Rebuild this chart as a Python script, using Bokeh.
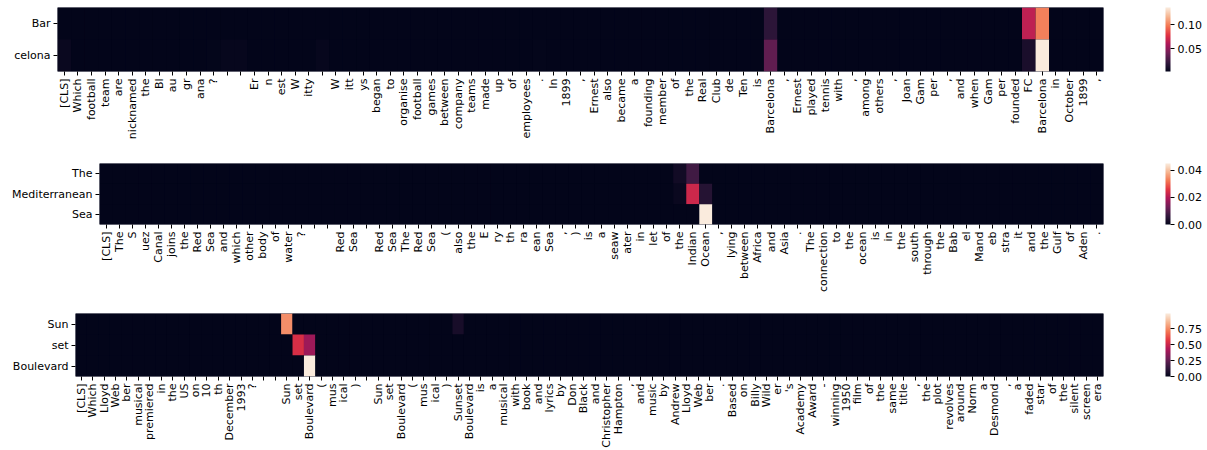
import math
import numpy as np
from bokeh.plotting import figure
from bokeh.models import (ColumnDataSource, LinearColorMapper, ColorBar, FixedTicker,
                          Range1d, PrintfTickFormatter)
from bokeh.embed import file_html
from bokeh.resources import INLINE

# ---------------- data ----------------
tokens1 = ["[CLS]", "Which", "football", "team", "are", "nicknamed", "the", "Bl", "au", "gr",
           "ana", "?", "", "", "Er", "n", "est", "W", "itty", "",
           "W", "itt", "ys", "began", "to", "organise", "football", "games", "between", "company",
           "teams", "made", "up", "of", "employees", ".", "In", "1899", ",", "Ernest",
           "also", "became", "a", "founding", "member", "of", "the", "Real", "Club", "de",
           "Ten", "is", "Barcelona", ",", "Ernest", "played", "tennis", "with", ",", "among",
           "others", ",", "Joan", "Gam", "per", ",", "and", "when", "Gam", "per",
           "founded", "FC", "Barcelona", "in", "October", "1899", ","]
rows1 = ["Bar", "celona"]
bar_vals = [
    0.003, 0.003, 0.003, 0.003, 0.003, 0.003, 0.003, 0.003, 0.003, 0.003,
    0.003, 0.003, 0.003, 0.003, 0.003, 0.003, 0.003, 0.003, 0.003, 0.003,
    0.003, 0.003, 0.003, 0.003, 0.003, 0.003, 0.003, 0.003, 0.003, 0.003,
    0.003, 0.003, 0.003, 0.003, 0.003, 0.003, 0.003, 0.003, 0.003, 0.003,
    0.003, 0.003, 0.003, 0.003, 0.003, 0.003, 0.003, 0.003, 0.003, 0.003,
    0.003, 0.003, 0.019, 0.003, 0.003, 0.003, 0.003, 0.003, 0.003, 0.003,
    0.003, 0.003, 0.003, 0.003, 0.003, 0.003, 0.003, 0.003, 0.003, 0.003,
    0.003, 0.066, 0.101, 0.003, 0.003, 0.003, 0.003]
celona_vals = [
    0.006, 0.003, 0.003, 0.003, 0.003, 0.003, 0.003, 0.003, 0.003, 0.003,
    0.003, 0.004, 0.005, 0.005, 0.003, 0.003, 0.003, 0.003, 0.003, 0.005,
    0.003, 0.003, 0.003, 0.003, 0.003, 0.003, 0.003, 0.003, 0.003, 0.003,
    0.003, 0.003, 0.003, 0.003, 0.003, 0.004, 0.003, 0.003, 0.003, 0.003,
    0.003, 0.003, 0.003, 0.003, 0.003, 0.003, 0.003, 0.003, 0.003, 0.003,
    0.003, 0.003, 0.036, 0.003, 0.003, 0.003, 0.003, 0.003, 0.003, 0.003,
    0.003, 0.003, 0.003, 0.003, 0.003, 0.003, 0.003, 0.003, 0.003, 0.003,
    0.003, 0.012, 0.136, 0.003, 0.003, 0.003, 0.003]

tokens2 = ["[CLS]", "The", "S", "uez", "Canal", "joins", "the", "Red", "Sea", "and",
           "which", "other", "body", "of", "water", "?", "", "", "Red", "Sea",
           "", "Red", "Sea", "The", "Red", "Sea", "(", "also", "the", "E",
           "ry", "th", "ra", "ean", "Sea", ",", ")", "is", "a", "seaw",
           "ater", "in", "let", "of", "the", "Indian", "Ocean", ",", "lying", "between",
           "Africa", "and", "Asia", ".", "The", "connection", "to", "the", "ocean", "is",
           "in", "the", "south", "through", "the", "Bab", "el", "Mand", "eb", "stra",
           "it", "and", "the", "Gulf", "of", "Aden", "."]
rows2 = ["The", "Mediterranean", "Sea"]
the_vals = [
    0, 0, 0, 0, 0, 0, 0, 0, 0, 0,
    0, 0, 0, 0, 0, 0, 0, 0, 0, 0,
    0, 0, 0, 0, 0, 0, 0, 0, 0, 0,
    0, 0, 0, 0, 0, 0, 0, 0, 0, 0,
    0, 0, 0, 0, 0.002, 0.0076, 0, 0, 0, 0,
    0, 0, 0, 0, 0, 0, 0, 0, 0, 0,
    0, 0, 0, 0, 0, 0, 0, 0, 0, 0,
    0, 0, 0, 0, 0, 0, 0]
mediterranean_vals = [
    0, 0, 0, 0, 0, 0, 0, 0, 0, 0,
    0, 0, 0, 0, 0, 0, 0, 0, 0, 0,
    0, 0, 0, 0, 0, 0, 0, 0, 0, 0,
    0, 0, 0, 0, 0, 0, 0, 0, 0, 0,
    0, 0, 0, 0, 0.001, 0.023, 0.0045, 0, 0, 0,
    0, 0, 0, 0, 0, 0, 0, 0, 0, 0,
    0, 0, 0, 0, 0, 0, 0, 0, 0, 0,
    0, 0, 0, 0, 0, 0, 0]
sea_vals = [
    0, 0, 0, 0, 0, 0, 0, 0, 0, 0,
    0, 0, 0, 0, 0, 0, 0, 0, 0, 0,
    0, 0, 0, 0, 0, 0, 0, 0, 0, 0,
    0, 0, 0, 0, 0, 0, 0, 0, 0, 0,
    0, 0, 0, 0, 0, 0, 0.0448, 0, 0, 0,
    0, 0, 0, 0, 0, 0, 0, 0, 0, 0,
    0, 0, 0, 0, 0, 0, 0, 0, 0, 0,
    0, 0, 0, 0, 0, 0, 0]

tokens3 = ["[CLS]", "Which", "Lloyd", "Web", "ber", "musical", "premiered", "in", "the", "US",
           "on", "10", "th", "December", "1993", "?", "", "", "Sun", "set",
           "Boulevard", "(", "mus", "ical", ")", "", "Sun", "set", "Boulevard", "(",
           "mus", "ical", ")", "Sunset", "Boulevard", "is", "a", "musical", "with", "book",
           "and", "lyrics", "by", "Don", "Black", "and", "Christopher", "Hampton", ",", "and",
           "music", "by", "Andrew", "Lloyd", "Web", "ber", ".", "Based", "on", "Billy",
           "Wild", "er", "'s", "Academy", "Award", "-", "winning", "1950", "film", "of",
           "the", "same", "title", ",", "the", "plot", "revolves", "around", "Norm", "a",
           "Desmond", ",", "a", "faded", "star", "of", "the", "silent", "screen", "era"]
rows3 = ["Sun", "set", "Boulevard"]
sun_vals = [
    0, 0, 0, 0, 0, 0, 0, 0, 0, 0,
    0, 0, 0, 0, 0, 0, 0, 0, 0.76, 0,
    0, 0, 0, 0, 0, 0, 0, 0, 0, 0,
    0, 0, 0, 0.06, 0, 0, 0, 0, 0, 0,
    0, 0, 0, 0, 0, 0, 0, 0, 0, 0,
    0, 0, 0, 0, 0, 0, 0, 0, 0, 0,
    0, 0, 0, 0, 0, 0, 0, 0, 0, 0,
    0, 0, 0, 0, 0, 0, 0, 0, 0, 0,
    0, 0, 0, 0, 0, 0, 0, 0, 0, 0]
set_vals = [
    0, 0, 0, 0, 0, 0, 0, 0, 0, 0,
    0, 0, 0, 0, 0, 0, 0, 0, 0, 0.54,
    0.39, 0, 0, 0, 0, 0, 0, 0, 0, 0,
    0, 0, 0, 0, 0, 0, 0, 0, 0, 0,
    0, 0, 0, 0, 0, 0, 0, 0, 0, 0,
    0, 0, 0, 0, 0, 0, 0, 0, 0, 0,
    0, 0, 0, 0, 0, 0, 0, 0, 0, 0,
    0, 0, 0, 0, 0, 0, 0, 0, 0, 0,
    0, 0, 0, 0, 0, 0, 0, 0, 0, 0]
boulevard_vals = [
    0, 0, 0, 0, 0, 0, 0, 0, 0, 0,
    0, 0, 0, 0, 0, 0, 0, 0, 0, 0,
    0.99, 0, 0, 0, 0, 0, 0, 0, 0, 0,
    0, 0, 0, 0, 0, 0, 0, 0, 0, 0,
    0, 0, 0, 0, 0, 0, 0, 0, 0, 0,
    0, 0, 0, 0, 0, 0, 0, 0, 0, 0,
    0, 0, 0, 0, 0, 0, 0, 0, 0, 0,
    0, 0, 0, 0, 0, 0, 0, 0, 0, 0,
    0, 0, 0, 0, 0, 0, 0, 0, 0, 0]

cbar_ticks1 = [0.05, 0.10]
cbar_ticks2 = [0.00, 0.02, 0.04]
cbar_ticks3 = [0.00, 0.25, 0.50, 0.75]

# ---------------- style ----------------
ROCKET_ANCHORS = ["#03051a", "#35193e", "#701f57", "#ad1759",
                  "#e13342", "#f37651", "#f6b48f", "#faebdd"]


def build_palette(anchors, n=256):
    rgb = np.array([[int(h[i:i + 2], 16) for i in (1, 3, 5)] for h in anchors], dtype=float)
    pos = np.linspace(0, 1, len(anchors))
    t = np.linspace(0, 1, n)
    out = []
    for tt in t:
        r, g, b = (np.interp(tt, pos, rgb[:, k]) for k in range(3))
        out.append("#%02x%02x%02x" % (int(round(r)), int(round(g)), int(round(b))))
    return out


ROCKET = build_palette(ROCKET_ANCHORS)
FONT = "DejaVu Sans"
FS = "11px"
W = 1207
FRAME_RIGHT = 1103      # figure px of the heatmap's right edge
CBAR_X = 1165           # figure px of the colour bar's left edge


def heatmap(tokens, rows, values, left, top, fh, bottom, cticks):
    n, m = len(tokens), len(rows)
    xs, ys, vs = [], [], []
    for r in range(m):
        for c in range(n):
            xs.append(c)
            ys.append(r)
            vs.append(values[r][c])
    src = ColumnDataSource(dict(x=xs, y=ys, v=vs))
    mapper = LinearColorMapper(palette=ROCKET, low=min(vs), high=max(vs))
    p = figure(width=W, height=top + fh + bottom,
               x_range=Range1d(-0.5, n - 0.5), y_range=Range1d(m - 0.5, -0.5),
               output_backend="svg", toolbar_location=None,
               min_border_left=left, min_border_right=W - FRAME_RIGHT,
               min_border_top=top, min_border_bottom=bottom)
    p.rect(x="x", y="y", width=1, height=1, source=src,
           fill_color={"field": "v", "transform": mapper}, line_color=None)
    p.grid.visible = False
    p.outline_line_color = None
    p.background_fill_color = ROCKET[0]
    p.border_fill_color = "white"

    p.xaxis.ticker = FixedTicker(ticks=list(range(n)))
    p.xaxis.major_label_overrides = {i: t for i, t in enumerate(tokens)}
    p.xaxis.major_label_orientation = math.pi / 2
    p.yaxis.ticker = FixedTicker(ticks=list(range(m)))
    p.yaxis.major_label_overrides = {i: t for i, t in enumerate(rows)}
    for ax in (p.xaxis[0], p.yaxis[0]):
        ax.axis_line_color = None
        ax.major_tick_line_color = "black"
        ax.major_tick_out = 4
        ax.major_tick_in = 0
        ax.minor_tick_line_color = None
        ax.major_label_standoff = 3
        ax.major_label_text_font = FONT
        ax.major_label_text_font_size = FS
        ax.major_label_text_color = "black"

    cb = ColorBar(color_mapper=mapper, orientation="vertical", width=5, height=fh,
                  location=(CBAR_X - left, 0), padding=0,
                  ticker=FixedTicker(ticks=cticks),
                  formatter=PrintfTickFormatter(format="%.2f"),
                  major_tick_line_color="black", major_tick_out=4, major_tick_in=0,
                  minor_tick_line_color=None, label_standoff=3,
                  major_label_text_font=FONT, major_label_text_font_size=FS,
                  major_label_text_color="black",
                  bar_line_color=None, border_line_color=None,
                  background_fill_alpha=0)
    p.add_layout(cb, "center")
    return p


f1 = heatmap(tokens1, rows1, [bar_vals, celona_vals], 57, 7, 64, 84, cbar_ticks1)
f2 = heatmap(tokens2, rows2, [the_vals, mediterranean_vals, sea_vals], 99, 8, 61, 81, cbar_ticks2)
f3 = heatmap(tokens3, rows3, [sun_vals, set_vals, boulevard_vals], 75, 8, 63, 74, cbar_ticks3)

open("out.html", "w").write(file_html([f1, f2, f3], INLINE))
